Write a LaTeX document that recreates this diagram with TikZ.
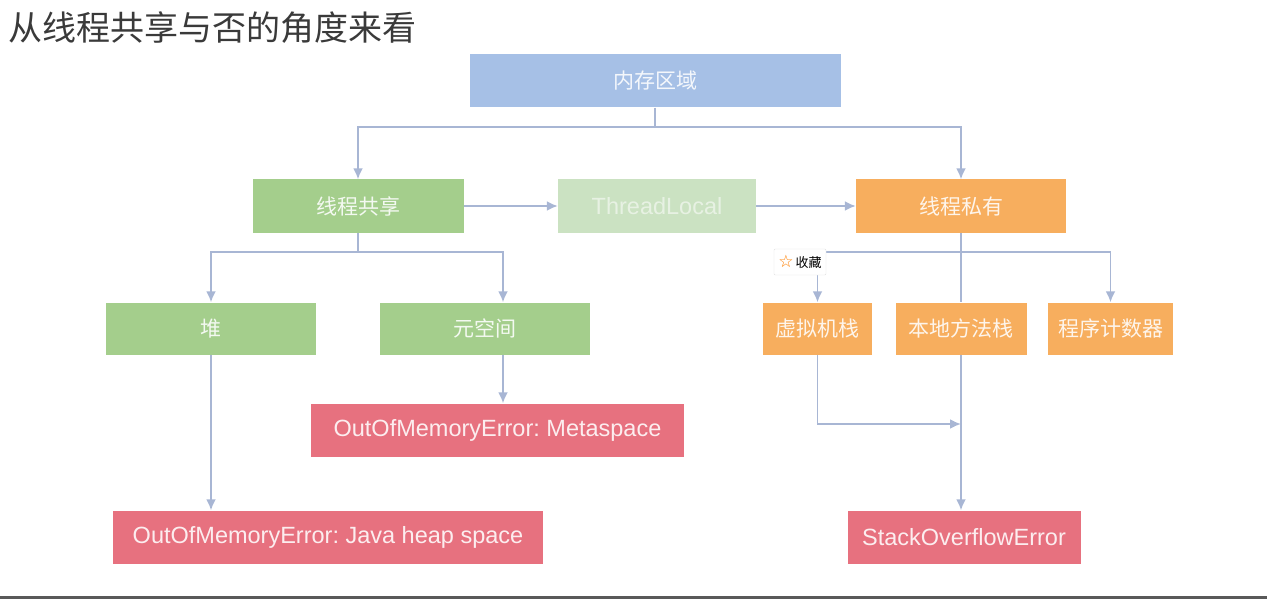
\documentclass[tikz,border=0pt]{standalone}
\usepackage{fontspec}
\usetikzlibrary{arrows.meta}
\setmainfont{Liberation Sans}
\newfontfamily\cjk{Noto Sans CJK SC}
\newfontfamily\symb{DejaVu Sans}
\definecolor{memblue}{HTML}{A6C0E6}
\definecolor{sharegreen}{HTML}{A4CE8C}
\definecolor{tlgreen}{HTML}{CBE2C2}
\definecolor{privorange}{HTML}{F7AE5E}
\definecolor{errred}{HTML}{E7717F}
\definecolor{linkgray}{HTML}{A8B6D4}
\definecolor{titlegray}{HTML}{3A3A3A}
\frenchspacing

\begin{document}
\begin{tikzpicture}[x=1pt,y=-1pt,>={Latex[length=11pt,width=10pt]},
    box/.style={rectangle,inner sep=0pt,minimum height=53pt,text=white,text opacity=0.88},
    zh/.style={font=\cjk\fontsize{21}{24}\selectfont},
    en/.style={font=\fontsize{23.5}{28}\selectfont},
    link/.style={draw=linkgray,line width=1.9pt,->}]
      \useasboundingbox (0,0) rectangle (1267,599);
      \node[anchor=base west,inner sep=0pt,text=titlegray,font=\cjk\fontsize{34}{40}\selectfont] (title) at (8,41) {从线程共享与否的角度来看};
      \node[box,zh,fill=memblue,minimum width=371pt] (mem) at (655,81) {内存区域};
      \node[box,zh,fill=sharegreen,minimum width=211pt] (shared) at (358,206) {线程共享};
      \node[box,en,fill=tlgreen,minimum width=198pt,text opacity=0.55] (tl) at (657,206) {ThreadLocal};
      \node[box,zh,fill=privorange,minimum width=210pt] (priv) at (961,206) {线程私有};
      \node[box,zh,fill=sharegreen,minimum width=210pt,minimum height=52pt] (heap) at (211,328.5) {堆};
      \node[box,zh,fill=sharegreen,minimum width=210pt,minimum height=52pt] (meta) at (485,328.5) {元空间};
      \node[box,zh,fill=privorange,minimum width=109pt,minimum height=52pt] (vms) at (817.5,328.5) {虚拟机栈};
      \node[box,zh,fill=privorange,minimum width=131pt,minimum height=52pt] (nms) at (961,328.5) {本地方法栈};
      \node[box,zh,fill=privorange,minimum width=125pt,minimum height=52pt] (pc) at (1110.5,328.5) {程序计数器};
      \node[box,en,fill=errred,minimum width=373pt] (oomm) at (497.5,430) {OutOfMemoryError: Metaspace};
      \node[box,en,fill=errred,minimum width=430pt] (oomh) at (328,537) {OutOfMemoryError: Java heap space};
      \node[box,en,fill=errred,minimum width=233pt] (soe) at (964,537) {StackOverflowError};
      \coordinate (row1) at (0,127);
      \coordinate (row2) at (0,252);
      \coordinate (row3) at (0,424);
      \draw[link] (mem.south) -- (mem.south |- row1) -| (shared.north);
      \draw[link] (mem.south |- row1) -| (priv.north);
      \draw[link] (shared) -- (tl);
      \draw[link] (tl) -- (priv);
      \draw[link] (shared.south) -- (shared.south |- row2) -| (heap.north);
      \draw[link] (shared.south |- row2) -| ([xshift=18pt]meta.north);
      \draw[link,-] (priv) -- (nms);
      \draw[link] (priv.south |- row2) -| (vms.north);
      \draw[link] (priv.south |- row2) -| (pc.north);
      \draw[link] (heap.south) -- (heap.south |- oomh.north);
      \draw[link] ([xshift=18pt]meta.south) -- ([xshift=18pt]meta.south |- oomm.north);
      \draw[link] (vms.south) |- (nms.south |- row3);
      \draw[link] (nms.south) -- (nms.south |- soe.north);
      \node[draw=black!12,fill=white,rounded corners=1pt,inner sep=0pt,minimum width=52pt,minimum height=26pt,font=\cjk\fontsize{13}{15}\selectfont] (fav) at (800,262) {{\symb\fontsize{17}{17}\selectfont\color{orange}☆}\,收藏};
      \fill[black!65] (0,595.5) rectangle (1267,599);
\end{tikzpicture}
\end{document}
